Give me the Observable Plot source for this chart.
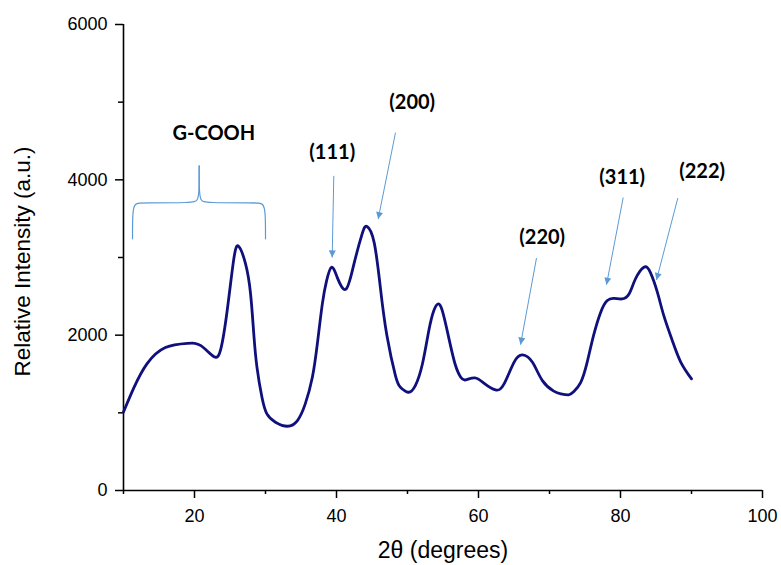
<!DOCTYPE html>
<html>
<head>
<meta charset="utf-8">
<script src="https://cdn.jsdelivr.net/npm/d3@7"></script>
<script src="https://cdn.jsdelivr.net/npm/@observablehq/plot@0.6"></script>
<style>
  html, body { margin: 0; padding: 0; background: white; }
</style>
</head>
<body>
<div id="chart"></div>
<script>
// XRD pattern: 2θ (degrees) vs relative intensity (a.u.)
const theta = [10, 11.5, 13.3, 15.9, 19.0, 20.9, 22.7, 23.7, 24.6, 25.5, 26.2, 27.2, 27.9, 28.35, 28.8, 29.5, 30.2, 31.4, 33.1, 34.5, 35.6, 36.6, 37.3, 38.0, 38.6, 39.3, 40.1, 41.3, 42.4, 43.6, 44.3, 45.3, 46.2, 47.1, 48.3, 49.0, 50.1, 51.1, 52.1, 53.0, 53.7, 54.3, 54.9, 55.8, 56.7, 57.5, 58.2, 59.5, 60.8, 62.4, 63.6, 65.0, 66.2, 67.6, 69.0, 70.6, 71.6, 72.7, 73.4, 74.4, 75.3, 76.2, 77.2, 78.1, 79.1, 80.2, 81.2, 82.1, 83.3, 84.2, 85.2, 86.1, 87.3, 88.5, 90.0];
const intensity = [1010, 1330, 1630, 1840, 1895, 1865, 1725, 1820, 2315, 2960, 3145, 2915, 2530, 2015, 1586, 1200, 986, 879, 827, 900, 1115, 1457, 1887, 2400, 2700, 2875, 2744, 2590, 2895, 3300, 3400, 3195, 2595, 1995, 1479, 1329, 1265, 1350, 1629, 2058, 2315, 2401, 2315, 1972, 1629, 1457, 1424, 1450, 1380, 1295, 1372, 1650, 1745, 1650, 1415, 1280, 1245, 1232, 1270, 1393, 1650, 1994, 2293, 2444, 2473, 2466, 2530, 2723, 2875, 2808, 2550, 2251, 1929, 1650, 1437];

// Tick values
const majorYTicks = [0, 2000, 4000, 6000];
const minorYTicks = [1000, 3000, 5000];
const majorXTicks = [20, 40, 60, 80, 100];
const minorXTicks = [10, 30, 50, 70, 90];

// Annotation labels (data coordinates)
const labelText = ["G-COOH", "(111)", "(200)", "(220)", "(311)", "(222)"];
const labelX = [22.72, 39.4, 50.66, 68.97, 80.24, 91.5];
const labelY = [4596, 4351, 4994, 3258, 4030, 4107];

// Arrows (data coordinates): start -> tip
const arrowX1 = [39.62, 48.31, 68.17, 80.38, 88.07];
const arrowY1 = [4051, 4608, 2993, 3772, 3765];
const arrowX2 = [39.39, 45.87, 65.92, 78.03, 85.07];
const arrowY2 = [3001, 3495, 1878, 2650, 2710];

// Curly brace over the G-COOH region (two halves meeting at the tip)
const braceX = [11.27, 11.27, 11.55, 12.68, 19.72, 20.49, 20.66, 20.66,
                20.66, 20.66, 20.83, 21.55, 28.59, 29.72, 30.0, 30.0];
const braceY = [3241, 3576, 3704, 3704, 3704, 3730, 3859, 4180,
                4180, 3859, 3730, 3704, 3704, 3704, 3576, 3241];
const braceSide = ["L","L","L","L","L","L","L","L","R","R","R","R","R","R","R","R"];

const xTitle = "2θ (degrees)";
const yTitle = "Relative Intensity (a.u.)";

const navy = "#10107c";
const blue = "#5b9bd5";

const svg = Plot.plot({
  width: 781,
  height: 565,
  marginLeft: 123,
  marginRight: 19,
  marginTop: 24,
  marginBottom: 75,
  x: { domain: [10, 100] },
  y: { domain: [0, 6000] },
  style: { fontFamily: "'Liberation Sans', Arial, sans-serif", fontSize: "18px", color: "black", background: "white" },
  marks: [
    Plot.axisY({ ticks: majorYTicks, tickSize: 8, tickPadding: 8, tickFormat: "d", strokeWidth: 1.5, label: null, fontSize: 18 }),
    Plot.axisY({ ticks: minorYTicks, tickSize: 5, tickFormat: () => "", strokeWidth: 1.5, label: null }),
    Plot.axisX({ ticks: majorXTicks, tickSize: 8, tickPadding: 11, tickFormat: "d", strokeWidth: 1.5, label: null, fontSize: 18 }),
    Plot.axisX({ ticks: minorXTicks, tickSize: 4, tickFormat: () => "", strokeWidth: 1.5, label: null }),
    Plot.ruleX([10], { stroke: "black", strokeWidth: 1.6 }),
    Plot.ruleY([0], { stroke: "black", strokeWidth: 1.6 }),
    Plot.line(intensity, { x: theta, y: intensity, curve: "natural", stroke: navy, strokeWidth: 2.8 }),
    Plot.line(braceY, { x: braceX, y: braceY, z: braceSide, curve: "basis", stroke: blue, strokeWidth: 1.2 }),
    Plot.link(arrowX1, { x1: arrowX1, y1: arrowY1, x2: arrowX2, y2: arrowY2, stroke: blue, strokeWidth: 1 }),
    Plot.text(labelText, { x: labelX, y: labelY, text: (d) => d, fontFamily: "Lato, 'Open Sans', sans-serif", fontWeight: "bold", fontSize: 20, fill: "black" }),
    Plot.text([yTitle], { frameAnchor: "left", dx: -101, dy: 4, rotate: -90, textAnchor: "middle", lineAnchor: "middle", fontSize: 22.5, fill: "black" }),
    Plot.text([xTitle], { frameAnchor: "bottom", dy: 60, textAnchor: "middle", lineAnchor: "middle", fontSize: 23, fill: "black" })
  ]
});

// Filled triangular arrowheads for the annotation arrows
const root = d3.select(svg);
const defs = root.insert("defs", ":first-child");
defs.append("marker")
  .attr("id", "ahead")
  .attr("viewBox", "0 0 10 10")
  .attr("refX", 10)
  .attr("refY", 5)
  .attr("markerWidth", 8)
  .attr("markerHeight", 7)
  .attr("markerUnits", "userSpaceOnUse")
  .attr("orient", "auto")
  .append("path")
  .attr("d", "M0,0L10,5L0,10Z")
  .attr("fill", blue);
root.selectAll('g[aria-label="link"] path').attr("marker-end", "url(#ahead)");

document.getElementById("chart").appendChild(svg);
</script>
</body>
</html>
